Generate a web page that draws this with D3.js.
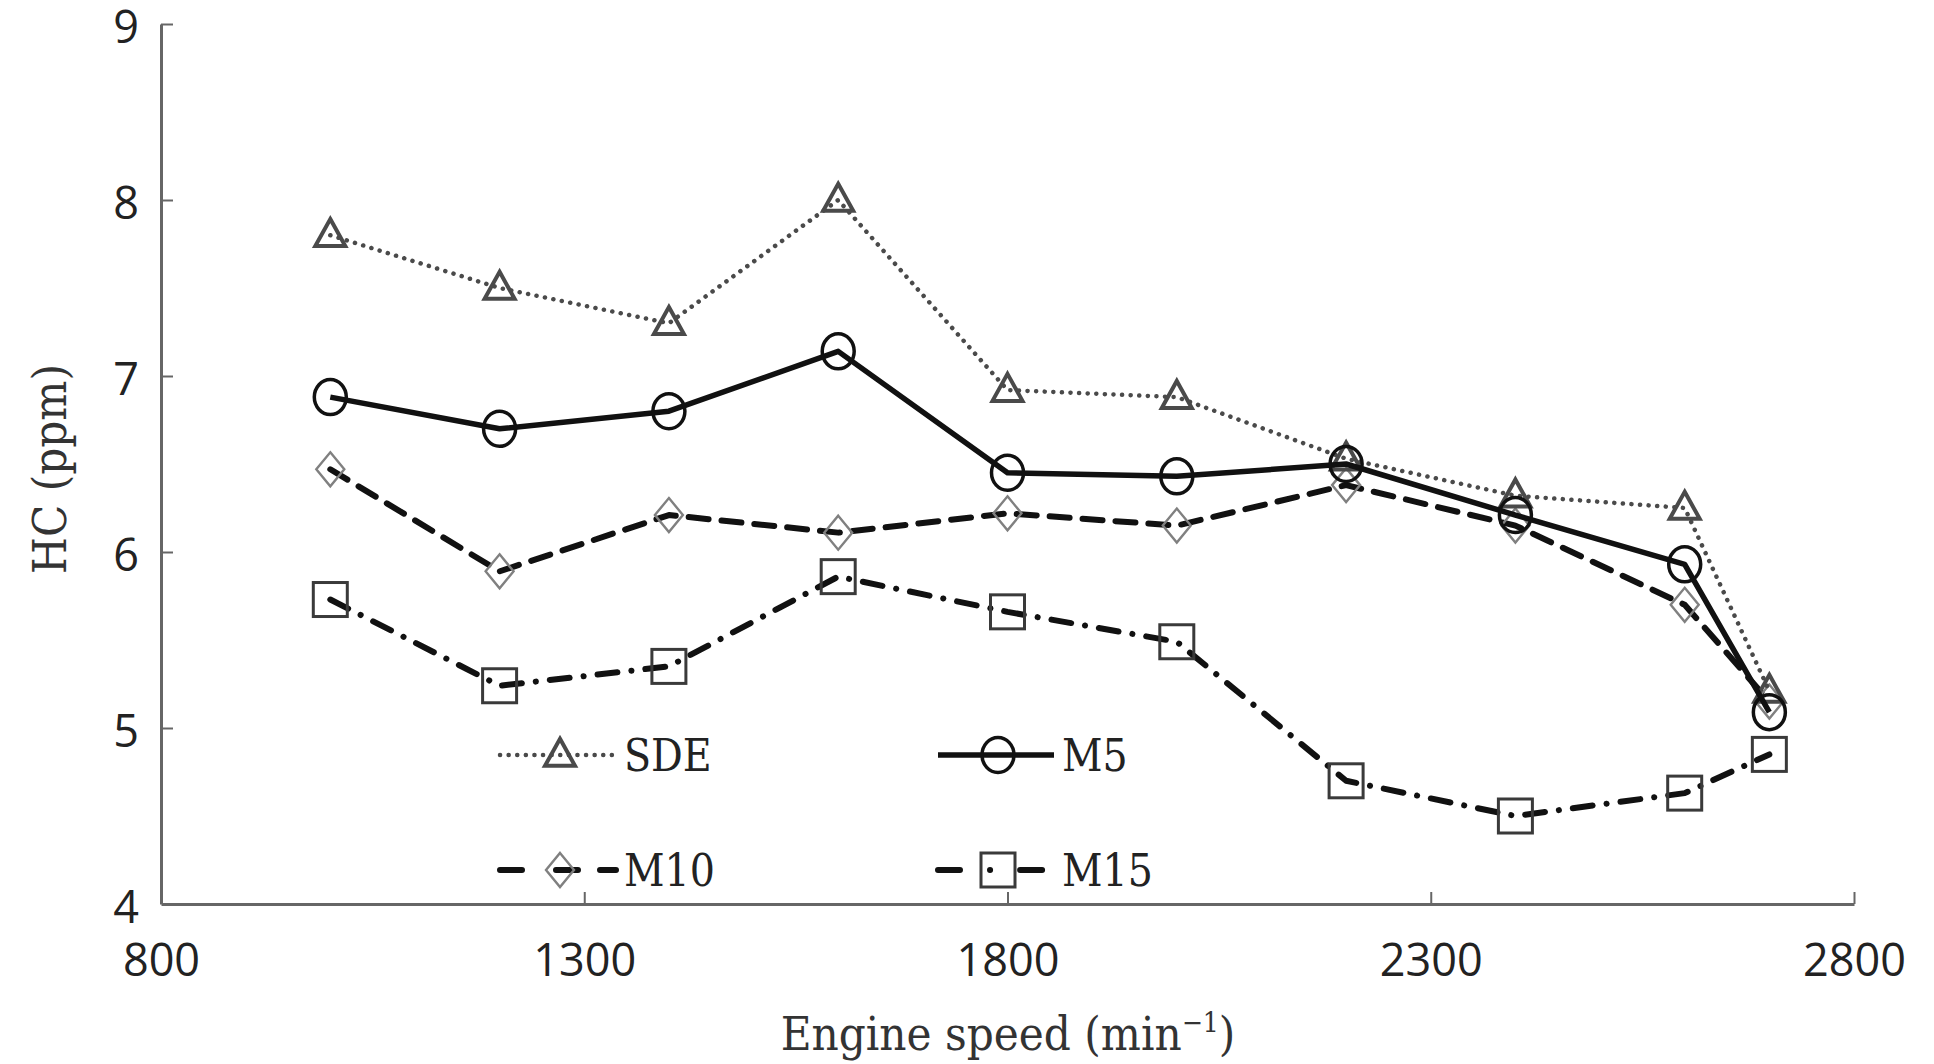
<!DOCTYPE html>
<html>
<head>
<meta charset="utf-8">
<script src="https://cdn.jsdelivr.net/npm/d3@7"></script>
<style>
  html, body { margin: 0; padding: 0; background: #fff; }
  svg { display: block; }
</style>
</head>
<body>
<svg id="chart" width="1934" height="1064"></svg>
<script>
// Engine speed (min^-1) at each measurement point
const speeds = [1000, 1200, 1400, 1600, 1800, 2000, 2200, 2400, 2600, 2700];

// HC emissions (ppm) per fuel blend
const sde = [7.80, 7.50, 7.30, 8.00, 6.92, 6.88, 6.53, 6.32, 6.25, 5.21];
const m5  = [6.88, 6.70, 6.80, 7.14, 6.45, 6.43, 6.50, 6.21, 5.93, 5.09];
const m10 = [6.47, 5.89, 6.21, 6.11, 6.22, 6.15, 6.38, 6.15, 5.70, 5.15];
const m15 = [5.73, 5.24, 5.35, 5.86, 5.66, 5.49, 4.70, 4.50, 4.63, 4.85];

const seriesNames = ["SDE", "M5", "M10", "M15"];
const xTicks = [800, 1300, 1800, 2300, 2800];
const yTicks = [4, 5, 6, 7, 8, 9];

const svg = d3.select("#chart");
const W = 1934, H = 1064;
const m = { left: 161, right: 80, top: 24, bottom: 160 };

const x = d3.scaleLinear().domain([800, 2800]).range([m.left, W - m.right]);
const y = d3.scaleLinear().domain([4, 9]).range([H - m.bottom, m.top]);

svg.append("rect").attr("width", W).attr("height", H).attr("fill", "#fff");

// Axes: ticks point into the plot area
const axisColor = "#666";
const tickFont = "'Open Sans', Lato, sans-serif";

const xAxis = svg.append("g")
  .attr("transform", `translate(0,${y(4)})`)
  .call(d3.axisBottom(x).tickValues(xTicks).tickSizeInner(-12).tickSizeOuter(0).tickPadding(40).tickFormat(d3.format("d")));
const yAxis = svg.append("g")
  .attr("transform", `translate(${x(800)},0)`)
  .call(d3.axisLeft(y).tickValues(yTicks).tickSizeInner(-12).tickSizeOuter(0).tickPadding(22).tickFormat(d3.format("d")));

[xAxis, yAxis].forEach(g => {
  g.select(".domain").attr("stroke", axisColor).attr("stroke-width", 3);
  g.selectAll(".tick line").attr("stroke", axisColor).attr("stroke-width", 2);
  g.selectAll(".tick text")
    .attr("fill", "#222")
    .style("font-family", tickFont)
    .style("font-size", "45px");
});
// hide the inward tick at the origin so the corner stays clean
xAxis.selectAll(".tick").filter(d => d === 800).select("line").remove();
yAxis.selectAll(".tick").filter(d => d === 4).select("line").remove();
xAxis.selectAll(".tick text").attr("dy", "0.71em");
yAxis.selectAll(".tick text").attr("dy", "0.40em");

// Axis titles
const titleFont = "'DejaVu Serif Condensed', 'DejaVu Serif', serif";
const xt = svg.append("text")
  .attr("x", 1008).attr("y", 1050)
  .attr("text-anchor", "middle")
  .attr("fill", "#333")
  .style("font-family", titleFont)
  .style("font-size", "47px");
xt.append("tspan").text("Engine speed (min");
xt.append("tspan").attr("dy", -18).style("font-size", "28px").text("−1");
xt.append("tspan").attr("dy", 18).text(")");

svg.append("text")
  .attr("transform", `translate(66,469) rotate(-90)`)
  .attr("text-anchor", "middle")
  .attr("fill", "#333")
  .style("font-family", titleFont)
  .style("font-size", "47px")
  .text("HC (ppm)");

// Series styles
const styles = {
  SDE: { values: sde, stroke: "#4a4a4a", width: 4.5, dash: "0.1 8.5", cap: "round", marker: "triangle", mStroke: "#4a4a4a", mWidth: 4 },
  M5:  { values: m5,  stroke: "#111", width: 5.5, dash: null, cap: "butt", marker: "circle", mStroke: "#111", mWidth: 3.5 },
  M10: { values: m10, stroke: "#111", width: 6, dash: "20 13", cap: "round", marker: "diamond", mStroke: "#808080", mWidth: 2.4 },
  M15: { values: m15, stroke: "#111", width: 6, dash: "20 14 0.1 14", cap: "round", marker: "square", mStroke: "#3a3a3a", mWidth: 3 }
};

function drawMarker(g, type, cx, cy, st) {
  if (type === "triangle") {
    const s = 30, h = 27;
    g.append("path")
      .attr("d", `M${cx},${cy - h * 0.6} L${cx + s / 2},${cy + h * 0.4} L${cx - s / 2},${cy + h * 0.4} Z`)
      .attr("fill", "none").attr("stroke", st.mStroke).attr("stroke-width", st.mWidth).attr("stroke-linejoin", "miter");
  } else if (type === "circle") {
    g.append("ellipse").attr("cx", cx).attr("cy", cy).attr("rx", 16).attr("ry", 17.5)
      .attr("fill", "none").attr("stroke", st.mStroke).attr("stroke-width", st.mWidth);
  } else if (type === "diamond") {
    const w = 14, h = 17;
    g.append("path")
      .attr("d", `M${cx},${cy - h} L${cx + w},${cy} L${cx},${cy + h} L${cx - w},${cy} Z`)
      .attr("fill", "none").attr("stroke", st.mStroke).attr("stroke-width", st.mWidth);
  } else if (type === "square") {
    const s = 34;
    g.append("rect").attr("x", cx - s / 2).attr("y", cy - s / 2).attr("width", s).attr("height", s)
      .attr("fill", "none").attr("stroke", st.mStroke).attr("stroke-width", st.mWidth);
  }
}

const line = d3.line().x(d => x(d[0])).y(d => y(d[1]));

// draw from back to front
["M15", "M10", "SDE", "M5"].forEach(name => {
  const st = styles[name];
  const pts = speeds.map((s, i) => [s, st.values[i]]);
  const g = svg.append("g").attr("class", "series-" + name);
  g.append("path")
    .attr("d", line(pts))
    .attr("fill", "none")
    .attr("stroke", st.stroke)
    .attr("stroke-width", st.width)
    .attr("stroke-linecap", st.cap)
    .attr("stroke-linejoin", "round")
    .attr("stroke-dasharray", st.dash);
  pts.forEach(p => drawMarker(g, st.marker, x(p[0]), y(p[1]), st));
});

// Legend, two columns by two rows
const legendPos = {
  SDE: [500, 755],
  M5:  [938, 755],
  M10: [500, 870],
  M15: [938, 870]
};
seriesNames.forEach(name => {
  const st = styles[name];
  const [lx, ly] = legendPos[name];
  const g = svg.append("g").attr("class", "legend-" + name);
  const len = 116;
  g.append("line")
    .attr("x1", lx).attr("x2", lx + len).attr("y1", ly).attr("y2", ly)
    .attr("stroke", st.stroke).attr("stroke-width", st.width)
    .attr("stroke-linecap", st.cap)
    .attr("stroke-dasharray", name === "M10" ? "22 34 0 0 22" : name === "M15" ? "22 30 0.1 30 22" : st.dash);
  drawMarker(g, st.marker, lx + len / 2 + 2, ly, st);
  g.append("text")
    .attr("x", lx + len + 8).attr("y", ly)
    .attr("dy", "0.36em")
    .attr("fill", "#222")
    .style("font-family", titleFont)
    .style("font-size", "44px")
    .text(name);
});
</script>
</body>
</html>
